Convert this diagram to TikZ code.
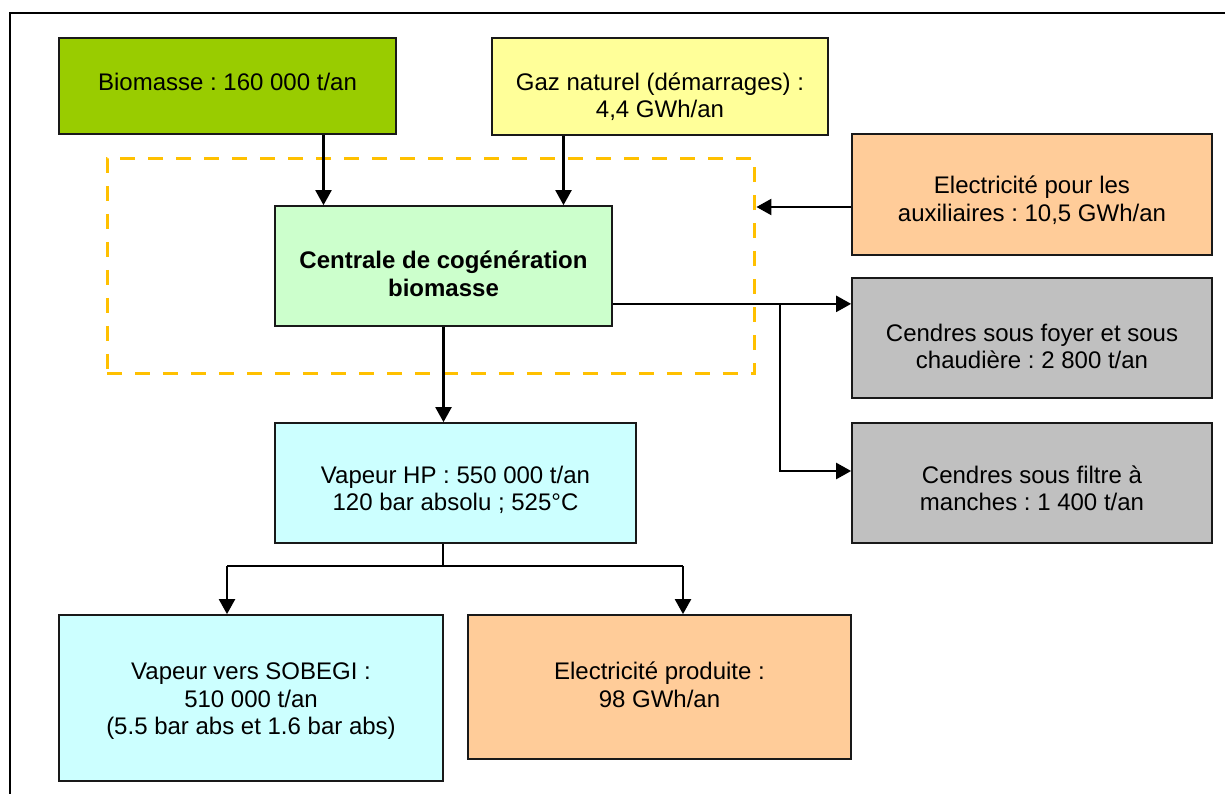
\documentclass[tikz,border=0pt]{standalone}
\usepackage{fontspec}
\setmainfont{Liberation Sans}
\usetikzlibrary{arrows.meta,calc,positioning}
\definecolor{vertbio}{HTML}{99CC00}
\definecolor{jaunegaz}{HTML}{FFFF99}
\definecolor{vertpale}{HTML}{CCFFCC}
\definecolor{saumon}{HTML}{FFCC99}
\definecolor{gris}{HTML}{C0C0C0}
\definecolor{cyanpale}{HTML}{CCFFFF}
\definecolor{orzone}{HTML}{FFC000}
\newcommand{\etiq}[2][0pt]{\raisebox{-#1}[0pt][0pt]{\begin{tabular}{@{}c@{}}#2\end{tabular}}}
\frenchspacing

\begin{document}
\begin{tikzpicture}[x=0.02cm, y=-0.02cm,
    boite/.style={draw=black!90, line width=1pt, inner sep=0pt,
      font=\fontsize{13.66}{15.6}\selectfont},
    zone/.style={draw=orzone, line width=1.7pt, dash pattern=on 0.3cm off 0.26cm},
    fleche/.style={line width=1.3pt, -{Triangle[length=0.3cm, width=0.32cm]}},
    trait/.style={line width=1.3pt}]
    \useasboundingbox (0,0) rectangle (1225,794);
    \clip (0,0) rectangle (1225,794);
    \draw[line width=1.1pt] (10,13) rectangle (1240,810);

    % entrees
    \node[boite, fill=vertbio, minimum width=6.74cm, minimum height=1.92cm] (biomasse) at (227.5,86)
        {\etiq[3.2pt]{Biomasse : 160 000 t/an}};
    \node[boite, fill=jaunegaz, minimum width=6.72cm, minimum height=1.94cm] (gaz) at (660,86.5)
        {\etiq[10.6pt]{Gaz naturel (démarrages) :\\4,4 GWh/an}};

    % centrale
    \node[zone, minimum width=12.96cm, minimum height=4.32cm] (perimetre) at (431,266) {};
    \node[boite, fill=vertpale, minimum width=6.74cm, minimum height=2.4cm,
        font=\fontsize{13.66}{15.6}\selectfont\bfseries] (centrale) at (443.5,266)
        {\etiq[9.8pt]{Centrale de cogénération\\biomasse}};

    % colonne de droite
    \node[boite, fill=saumon, minimum width=7.2cm, minimum height=2.42cm] (elecaux) at (1032,194.5)
        {\etiq[7.8pt]{Electricité pour les\\auxiliaires : 10,5 GWh/an}};
    \node[boite, fill=gris, minimum width=7.2cm, minimum height=2.4cm] (foyer) at (1032,338)
        {\etiq[10pt]{Cendres sous foyer et sous\\chaudière : 2 800 t/an}};
    \node[boite, fill=gris, minimum width=7.2cm, minimum height=2.4cm] (filtre) at (1032,483)
        {\etiq[8.3pt]{Cendres sous filtre à\\manches : 1 400 t/an}};

    % sorties
    \node[boite, fill=cyanpale, minimum width=7.22cm, minimum height=2.4cm] (vapeurhp) at (455.5,483)
        {\etiq[8.3pt]{Vapeur HP : 550 000 t/an\\120 bar absolu ; 525°C}};
    \node[boite, fill=cyanpale, minimum width=7.68cm, minimum height=3.32cm] (sobegi) at (251,698)
        {\etiq[5.8pt]{Vapeur vers SOBEGI :\\510 000 t/an\\(5.5 bar abs et 1.6 bar abs)}};
    \node[boite, fill=saumon, minimum width=7.66cm, minimum height=2.88cm] (elecprod) at (659.5,687)
        {\etiq[4.1pt]{Electricité produite :\\98 GWh/an}};

    % fleches
    \coordinate (e1) at ($(centrale.north)+(-120,0)$);
    \coordinate (e2) at ($(centrale.north)+(120,0)$);
    \draw[fleche] (biomasse.south -| e1) -- (e1);
    \draw[fleche] (gaz.south -| e2) -- (e2);
    \coordinate (ea) at ($(elecaux.west)+(0,12.5)$);
    \draw[fleche] (ea) -- (ea -| perimetre.east);

    \coordinate (sortie) at ($(centrale.south east)+(0,-23)$);
    \coordinate (branche) at (780,303);
    \draw[fleche] (sortie) -- (sortie -| foyer.west);
    \draw[fleche] (branche) |- ($(filtre.west)+(0,-12)$);

    \draw[fleche] (centrale.south) -- (centrale.south |- vapeurhp.north);

    \coordinate (tige) at (443,566);
    \coordinate (vg) at (227,566);
    \coordinate (vd) at (683,566);
    \draw[trait] (vapeurhp.south -| tige) -- (tige);
    \draw[trait] (vg) -- (vd);
    \draw[fleche] (vg) -- (vg |- sobegi.north);
    \draw[fleche] (vd) -- (vd |- elecprod.north);
\end{tikzpicture}
\end{document}
